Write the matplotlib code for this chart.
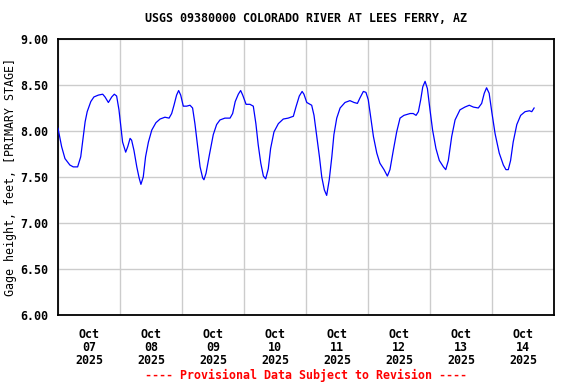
import numpy as np
import pandas as pd
import matplotlib
matplotlib.use('Agg')
import matplotlib.pyplot as plt
import matplotlib.dates as mdates

plt.rcParams['font.family'] = 'DejaVu Sans Mono'
plt.rcParams['font.weight'] = 'bold'
FS = 8.4

title = 'USGS 09380000 COLORADO RIVER AT LEES FERRY, AZ'
ylabel = 'Gage height, feet, [PRIMARY STAGE]'
footer = '---- Provisional Data Subject to Revision ----'

# hours after 2025-10-07 00:00
hours = [0.0, 1.4, 2.7, 4.6, 5.9, 7.6, 8.8, 9.8, 10.5, 11.3, 12.7, 13.9, 15.6, 17.3,
         18.2, 19.5, 20.8, 21.8, 22.7, 23.6, 24.3, 25.0, 26.2, 27.0, 27.9, 28.5,
         29.4, 30.5, 31.4, 32.1, 33.0, 33.9, 35.0, 36.3, 37.9, 39.5, 41.4, 43.0,
         44.0, 44.9, 45.9, 46.7, 47.5, 48.5, 49.8, 51.1, 52.1, 53.0, 53.9, 55.0,
         56.0, 56.5, 57.3, 58.6, 60.1, 61.4, 62.7, 64.6, 66.6, 67.6, 68.6, 69.8,
         70.7, 71.5, 72.8, 74.3, 75.6, 76.6, 77.5, 78.5, 79.5, 80.4, 81.4, 82.3,
         83.6, 85.3, 87.2, 89.1, 91.1, 92.1, 93.4, 94.5, 95.2, 96.3, 98.2, 99.1,
         100.1, 101.2, 102.1, 103.1, 104.0, 105.0, 106.0, 106.8, 107.9, 109.2,
         111.1, 113.0, 114.6, 115.9, 116.9, 118.2, 119.2, 120.1, 121.0, 122.1,
         123.4, 124.6, 126.2, 127.5, 128.5, 129.8, 131.1, 132.4, 133.9, 136.3,
         137.5, 138.6, 139.5, 140.4, 141.2, 142.1, 143.0, 144.0, 145.0, 146.3,
         147.6, 149.2, 150.1, 151.1, 152.4, 153.7, 155.6, 157.5, 159.2, 160.8,
         162.7, 164.0, 165.0, 165.9, 166.9, 167.9, 169.2, 170.8, 172.4, 173.4,
         174.3, 175.2, 176.2, 177.6, 179.1, 180.8, 182.5, 183.4, 184.3]
stage = [8.03, 7.83, 7.70, 7.63, 7.61, 7.61, 7.72, 7.94, 8.10, 8.21, 8.32, 8.37, 8.39, 8.40,
         8.37, 8.31, 8.37, 8.40, 8.38, 8.23, 8.05, 7.88, 7.77, 7.83, 7.92, 7.90,
         7.79, 7.61, 7.49, 7.42, 7.50, 7.72, 7.88, 8.01, 8.09, 8.13, 8.15, 8.14,
         8.19, 8.28, 8.39, 8.44, 8.39, 8.27, 8.27, 8.28, 8.25, 8.08, 7.87, 7.61,
         7.49, 7.47, 7.54, 7.74, 7.96, 8.07, 8.12, 8.14, 8.14, 8.19, 8.32, 8.40,
         8.44, 8.39, 8.29, 8.29, 8.27, 8.08, 7.85, 7.65, 7.51, 7.48, 7.59, 7.81,
         7.99, 8.08, 8.13, 8.14, 8.16, 8.26, 8.38, 8.43, 8.40, 8.31, 8.28, 8.17,
         7.96, 7.72, 7.50, 7.36, 7.30, 7.47, 7.72, 7.96, 8.14, 8.25,
         8.31, 8.33, 8.31, 8.30, 8.36, 8.43, 8.42, 8.34, 8.16, 7.94,
         7.76, 7.65, 7.58, 7.51, 7.58, 7.79, 7.99, 8.14, 8.17, 8.19,
         8.19, 8.17, 8.21, 8.34, 8.48, 8.54, 8.46, 8.23, 8.01, 7.81,
         7.68, 7.61, 7.58, 7.68, 7.94, 8.12, 8.23, 8.26, 8.28, 8.26,
         8.25, 8.30, 8.41, 8.47, 8.41, 8.21, 7.97, 7.76, 7.63, 7.58,
         7.58, 7.68, 7.88, 8.07, 8.17, 8.21, 8.22, 8.21, 8.25]

start = pd.Timestamp('2025-10-07')
times = start + pd.to_timedelta(hours, unit='h')

fig = plt.figure(figsize=(5.76, 3.84), dpi=100)
ax = fig.add_axes([58 / 576, 69 / 384, 496 / 576, 276 / 384])

ax.plot(times, stage, color='#0000ff', linewidth=0.9, zorder=3)

ax.set_xlim(start, start + pd.Timedelta(days=8))
ax.set_ylim(6.0, 9.0)
ax.set_yticks(np.arange(6.0, 9.01, 0.5))
ax.yaxis.set_major_formatter(plt.FuncFormatter(lambda v, p: '%.2f' % v))

# labels at noon, grid at midnight
ax.xaxis.set_major_locator(mdates.HourLocator(byhour=[12]))
ax.xaxis.set_major_formatter(mdates.DateFormatter('%b\n%d\n%Y'))
ax.xaxis.set_minor_locator(mdates.HourLocator(byhour=[0]))
ax.grid(which='minor', axis='x', color='#cccccc', linewidth=1.0)
ax.grid(which='major', axis='y', color='#cccccc', linewidth=1.0)
ax.grid(which='major', axis='x', visible=False)

ax.tick_params(axis='both', which='both', length=0, labelsize=FS)
ax.tick_params(axis='y', pad=7)
ax.tick_params(axis='x', pad=9)
for lab in ax.get_xticklabels():
    lab.set_linespacing(1.05)

for s in ax.spines.values():
    s.set_linewidth(1.3)
    s.set_color('black')

ax.set_ylabel(ylabel, fontsize=FS)
ax.yaxis.set_label_coords(-41 / 496, 0.5)

fig.text(306 / 576, 1 - 19 / 384, title, ha='center', va='center', fontsize=FS)
fig.text(306 / 576, 1 - 375 / 384, footer, ha='center', va='center', fontsize=FS, color='#ff0000')

fig.savefig('out.png', dpi=100)
